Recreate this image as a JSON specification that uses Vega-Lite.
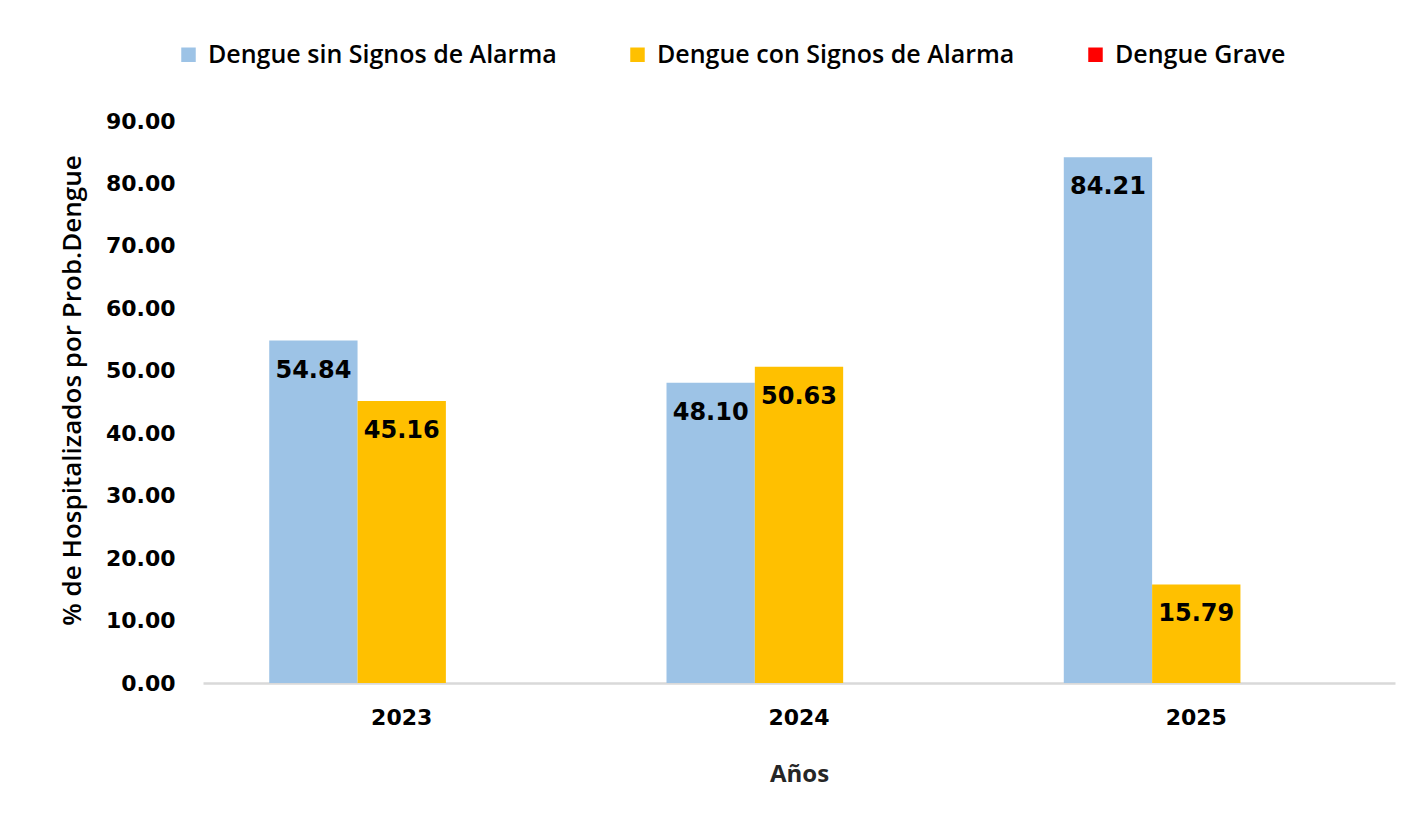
{
  "$schema": "https://vega.github.io/schema/vega-lite/v6.json",
  "autosize": {"type": "none"},
  "width": 1192,
  "height": 562,
  "padding": {"left": 203, "top": 121, "right": 26, "bottom": 138},
  "background": "white",
  "config": {"view": {"stroke": null}},
  "data": {
    "values": [
      {"year": "2023", "serie": "Dengue sin Signos de Alarma", "value": 54.84},
      {"year": "2023", "serie": "Dengue con Signos de Alarma", "value": 45.16},
      {"year": "2023", "serie": "Dengue Grave", "value": 0},
      {"year": "2024", "serie": "Dengue sin Signos de Alarma", "value": 48.10},
      {"year": "2024", "serie": "Dengue con Signos de Alarma", "value": 50.63},
      {"year": "2024", "serie": "Dengue Grave", "value": 0},
      {"year": "2025", "serie": "Dengue sin Signos de Alarma", "value": 84.21},
      {"year": "2025", "serie": "Dengue con Signos de Alarma", "value": 15.79},
      {"year": "2025", "serie": "Dengue Grave", "value": 0}
    ]
  },
  "encoding": {
    "x": {
      "field": "year",
      "type": "nominal",
      "scale": {"paddingInner": 0.333, "paddingOuter": 0.1667},
      "axis": {
        "title": "Años",
        "labelAngle": 0,
        "labelFont": "DejaVu Sans",
        "labelFontWeight": "bold",
        "labelFontSize": 22,
        "labelColor": "#000000",
        "labelPadding": 24,
        "ticks": false,
        "domainColor": "#d9d9d9",
        "domainWidth": 2.5,
        "titleFont": "Open Sans",
        "titleFontWeight": "bold",
        "titleFontSize": 24,
        "titleColor": "#262626",
        "titlePadding": 34
      }
    },
    "xOffset": {
      "field": "serie",
      "type": "nominal",
      "sort": ["Dengue sin Signos de Alarma", "Dengue con Signos de Alarma", "Dengue Grave"],
      "scale": {"paddingInner": 0, "paddingOuter": 0}
    },
    "y": {
      "field": "value",
      "type": "quantitative",
      "scale": {"domain": [0, 90]},
      "axis": {
        "title": "% de Hospitalizados  por Prob.Dengue",
        "values": [0, 10, 20, 30, 40, 50, 60, 70, 80, 90],
        "format": ".2f",
        "grid": false,
        "domain": false,
        "ticks": false,
        "labelFont": "DejaVu Sans",
        "labelFontWeight": "bold",
        "labelFontSize": 22,
        "labelColor": "#000000",
        "labelPadding": 28,
        "titleFont": "Open Sans",
        "titleFontWeight": 600,
        "titleFontSize": 26,
        "titleColor": "#000000",
        "titlePadding": 20,
        "titleY": 269
      }
    }
  },
  "layer": [
    {
      "mark": {"type": "bar"},
      "encoding": {
        "color": {
          "field": "serie",
          "type": "nominal",
          "sort": ["Dengue sin Signos de Alarma", "Dengue con Signos de Alarma", "Dengue Grave"],
          "scale": {
            "domain": ["Dengue sin Signos de Alarma", "Dengue con Signos de Alarma", "Dengue Grave"],
            "range": ["#9DC3E6", "#FFC000", "#FF0000"]
          },
          "legend": {
            "title": null,
            "orient": "none",
            "direction": "horizontal",
            "legendX": -27,
            "legendY": -79,
            "symbolType": "square",
            "symbolSize": 210,
            "symbolStrokeWidth": 0,
            "labelFont": "Open Sans",
            "labelFontWeight": 600,
            "labelFontSize": 25,
            "labelColor": "#000000",
            "labelLimit": 600,
            "labelOffset": 7,
            "columnPadding": 68
          }
        }
      }
    },
    {
      "transform": [{"filter": "datum.value > 0"}],
      "mark": {
        "type": "text",
        "baseline": "middle",
        "dy": 30,
        "font": "DejaVu Sans",
        "fontWeight": "bold",
        "fontSize": 24,
        "color": "#000000"
      },
      "encoding": {
        "text": {"field": "value", "type": "quantitative", "format": ".2f"}
      }
    }
  ]
}
